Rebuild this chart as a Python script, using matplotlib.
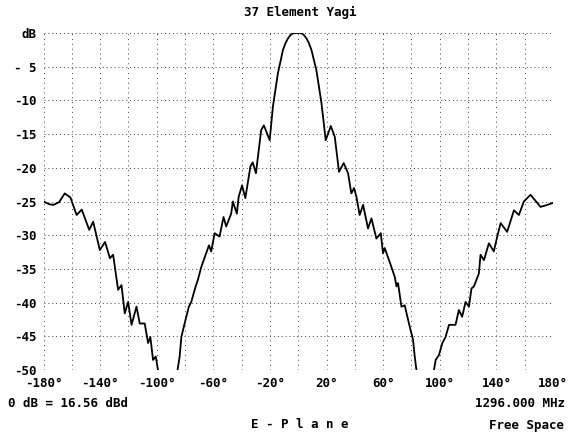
import matplotlib
matplotlib.use("Agg")
import matplotlib.pyplot as plt
import numpy as np

# pattern: angle (deg) and relative gain (dB)
angle = [-180, -176, -173, -169, -165, -161, -156.6, -153, -147.7, -144.9,
         -140.2, -136.5, -133.1, -130.8, -127.3, -124.9, -122.6, -120.2,
         -117.8, -114.3, -112, -108.5, -106.1, -104.5, -102.6, -100.7, -99.1,
         -97, -87,
         -85.3, -83.8, -82.6, -80.3, -77.3, -75.6, -72.5, -70.9, -68.5, -63.1,
         -61.5, -59.1, -55.6, -52.8, -50.9, -47.4, -46.2, -43.4, -42.1, -39.7,
         -37.4, -33.8, -32.2, -29.9, -26.2, -24.3, -20.2, -17.9, -14.4, -10.8,
         -9, -7.3, -5.5, -3.7, -1, 1, 2.3, 4, 5.8, 7.5, 9.3, 12.8, 16.4, 19.4,
         23, 25.8, 28.8, 32.1,
         35.2, 37.5, 39.4, 41.1, 43.4, 45.8, 49.3, 51.7, 55.2, 58.3, 59.9,
         61.1, 65.8, 68.2, 69.4, 70.5, 72.9, 75.2, 78.8, 81.1, 82.3, 83.5,
         85, 94,
         95.9, 97.1, 99.4, 101.8, 104.1, 106.5, 111.1, 113.5, 115.8, 118.2,
         120.6, 122.4, 124.1, 127.6, 128.8, 131.2, 134.7, 138.2, 140.6, 143,
         147.6, 152.4, 155.9, 159.4, 164.1, 168, 171.2, 176, 180]
gain = [-25.0, -25.4, -25.5, -25.1, -23.8, -24.4, -27.0, -26.2, -29.2, -28.0,
        -32.2, -31.0, -33.4, -32.9, -38.1, -37.4, -41.6, -39.9,
        -43.3, -40.6, -43.1, -43.1, -46.0, -45.1, -48.5, -48.0, -50,
        -55, -55,
        -50, -48.0, -45.1, -43.1, -40.6, -39.9, -37.6, -36.6, -34.7, -31.5,
        -32.4, -29.7, -30.2, -27.3, -28.7, -26.8, -25.0, -26.8, -24.3, -22.6,
        -24.5, -19.8, -19.2, -20.8, -14.4, -13.7, -15.9, -10.9, -6.0, -2.5,
        -1.5, -0.8, -0.3, -0.05, 0, 0, -0.05, -0.3, -0.8, -1.5, -2.5, -5.5,
        -10.4, -15.9, -13.8, -15.4, -20.6, -19.3,
        -20.8, -23.8, -23.0, -24.3, -27.0, -25.5, -29.0, -27.5, -30.5, -29.7, -32.7,
        -31.9, -34.7, -36.2, -37.6, -37.1, -40.6, -40.4, -43.6, -45.5, -48.0, -50,
        -55, -55,
        -50, -48.5, -47.8, -46.0, -45.1, -43.3, -43.3, -41.1, -42.1, -39.9,
        -40.6, -37.9, -37.6, -35.7, -32.9, -33.7, -31.2, -32.4, -30.2, -28.2,
        -29.5, -26.3, -27.0, -25.0, -24.0, -25.0, -25.8, -25.5, -25.2]

xticks = [-180, -140, -100, -60, -20, 20, 60, 100, 140, 180]
xlabels = ["-180°", "-140°", "-100°", "-60°", "-20°", "20°", "60°", "100°", "140°", "180°"]
yticks = [0, -5, -10, -15, -20, -25, -30, -35, -40, -45, -50]
ylabels = ["dB", "- 5", "-10", "-15", "-20", "-25", "-30", "-35", "-40", "-45", "-50"]

font = "DejaVu Sans Mono"
fs = 9

fig = plt.figure(figsize=(5.68, 4.32), dpi=100)
ax = fig.add_axes([0.0766, 0.1435, 0.8970, 0.7801])

for a in range(-180, 181, 20):
    ax.axvline(a, color="0.25", lw=0.7, ls=(0, (1, 4)), zorder=1)
for g in range(0, -51, -5):
    ax.axhline(g, color="0.25", lw=0.7, ls=(0, (1, 3)), zorder=1)

ax.plot(angle, gain, color="black", lw=1.3, zorder=3)

ax.set_xlim(-180, 180)
ax.set_ylim(-50, 0)
for s in ax.spines.values():
    s.set_visible(False)
ax.set_xticks(xticks)
ax.set_xticklabels(xlabels, fontfamily=font, fontweight="bold", fontsize=fs)
ax.set_yticks(yticks)
ax.set_yticklabels(ylabels, fontfamily=font, fontweight="bold", fontsize=fs)
ax.tick_params(length=0, pad=5)

fig.text(0.528, 0.972, "37 Element Yagi", ha="center", va="center",
         fontfamily=font, fontweight="bold", fontsize=fs)
fig.text(0.014, 0.065, "0 dB = 16.56 dBd", ha="left", va="center",
         fontfamily=font, fontweight="bold", fontsize=fs)
fig.text(0.995, 0.065, "1296.000 MHz", ha="right", va="center",
         fontfamily=font, fontweight="bold", fontsize=fs)
fig.text(0.527, 0.018, "E - P l a n e", ha="center", va="center",
         fontfamily=font, fontweight="bold", fontsize=fs)
fig.text(0.993, 0.014, "Free Space", ha="right", va="center",
         fontfamily=font, fontweight="bold", fontsize=fs)

fig.savefig("out.png", dpi=100)
